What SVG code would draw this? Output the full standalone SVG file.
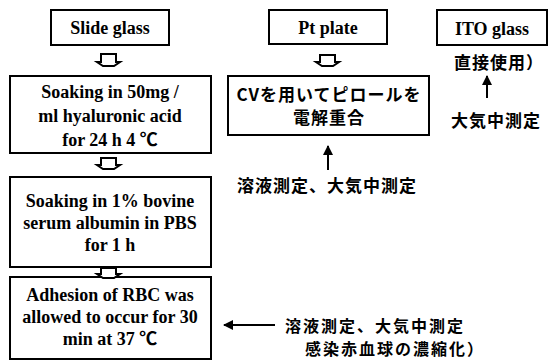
<svg xmlns="http://www.w3.org/2000/svg" width="551" height="360" viewBox="0 0 551 360">
<defs>
<style>
.box{fill:#fff;stroke:#000;stroke-width:2}
.en{font-family:"Liberation Serif","Noto Sans CJK JP",serif;font-weight:bold;font-size:18px;fill:#000;text-anchor:middle}
.jp{font-family:"Noto Sans CJK JP","Noto Sans CJK SC",sans-serif;font-weight:bold;font-size:17px;letter-spacing:1px;fill:#000}
.jps{font-size:16px;letter-spacing:2px}
.ln{stroke:#000;stroke-width:2;fill:none}
.ha{fill:#fff;stroke:#000;stroke-width:2;stroke-linejoin:miter}
</style>
<marker id="ah" viewBox="0 0 10 10" refX="9" refY="5" markerWidth="5" markerHeight="5" orient="auto" markerUnits="strokeWidth">
<path d="M0,0 L10,5 L0,10 Z" fill="#000"/>
</marker>
</defs>
<rect width="551" height="360" fill="#fff"/>

<g id="slide-glass">
<rect class="box" x="51" y="10" width="118" height="35"/>
<text class="en" x="110" y="34">Slide glass</text>
</g>
<g id="soak-ha">
<rect class="box" x="10" y="76" width="201" height="77"/>
<text class="en" x="110" y="98">Soaking in 50mg /</text>
<text class="en" x="110" y="122">ml hyaluronic acid</text>
<text class="en" x="110" y="146">for 24 h 4 ℃</text>
</g>
<g id="soak-bsa">
<rect class="box" x="10" y="177" width="201" height="90"/>
<text class="en" x="110" y="207">Soaking in 1% bovine</text>
<text class="en" x="110" y="229">serum albumin in PBS</text>
<text class="en" x="110" y="251">for 1 h</text>
</g>
<g id="adhesion">
<rect class="box" x="10" y="277" width="201" height="82"/>
<text class="en" x="110" y="301">Adhesion of RBC was</text>
<text class="en" x="110" y="323">allowed to occur for 30</text>
<text class="en" x="110" y="345">min at 37 ℃</text>
</g>
<g id="pt-plate">
<rect class="box" x="269" y="10" width="118" height="34"/>
<text class="en" x="328" y="34">Pt plate</text>
</g>
<g id="cv">
<rect class="box" x="228" y="76" width="201" height="59"/>
<text class="jp" x="329" y="101" text-anchor="middle">CVを用いてピロールを</text>
<text class="jp" x="329" y="124" text-anchor="middle">電解重合</text>
</g>
<g id="ito-glass">
<rect class="box" x="437" y="10" width="110" height="35"/>
<text class="en" x="492" y="35">ITO glass</text>
</g>
<g id="labels">
<text class="jp" x="499" y="69" text-anchor="middle">直接使用）</text>
<text class="jp" x="496" y="127" text-anchor="middle">大気中測定</text>
<text class="jp" x="237" y="192">溶液測定、大気中測定</text>
<text class="jp jps" x="285" y="332">溶液測定、大気中測定</text>
<text class="jp jps" x="305" y="355">感染赤血球の濃縮化）</text>
</g>

<g id="connectors">
<path class="ha" d="M101,54 H116 V62 H120 L114,66 H103 L97,62 H101 Z"/>
<path class="ha" d="M101,158 H116 V165 H120 L114,169 H103 L97,165 H101 Z"/>
<path class="ha" d="M101,268 H116 V274 H120 L114,278 H103 L97,274 H101 Z"/>
<path class="ha" d="M320,55 H335 V62 H339 L333,66 H322 L316,62 H320 Z"/>
<line class="ln" x1="328" y1="170" x2="328" y2="146" marker-end="url(#ah)"/>
<line class="ln" x1="487" y1="98" x2="487" y2="76" marker-end="url(#ah)"/>
<line class="ln" x1="275" y1="325" x2="224" y2="325" marker-end="url(#ah)"/>
</g>
</svg>
